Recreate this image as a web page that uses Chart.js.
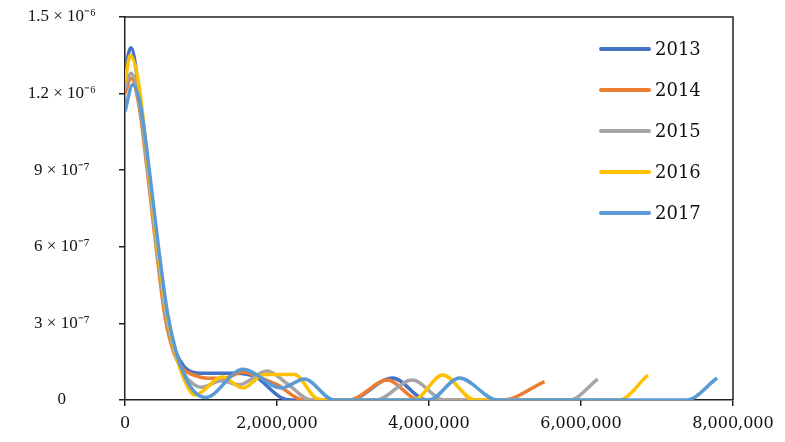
<!DOCTYPE html>
<html>
<head>
<meta charset="utf-8">
<script src="https://cdn.jsdelivr.net/npm/chart.js@4"></script>
<style>
  body { margin: 0; background: #fff; }
  #wrap { width: 785px; height: 442px; }
</style>
</head>
<body>
<div id="wrap"><canvas id="chart"></canvas></div>
<script>
// values (x in units, y as density)
const years = ["2013", "2014", "2015", "2016", "2017"];
const colors = ["#4472C4", "#ED7D31", "#A5A5A5", "#FFC000", "#5B9BD5"];

const x2013 = [0, 80000, 180000, 300000, 420000, 540000, 660000, 780000, 900000, 1000000, 1450000, 1720000, 2050000, 2200000, 2950000, 3520000, 3970000, 4150000];
const y2013 = [1.30e-6, 1.38e-6, 1.22e-6, 9.2e-7, 6.0e-7, 3.4e-7, 1.95e-7, 1.3e-7, 1.08e-7, 1.05e-7, 1.05e-7, 9.0e-8, 1.0e-8, 0, 0, 8.6e-8, 0, 0];

const x2014 = [0, 80000, 180000, 300000, 420000, 530000, 650000, 770000, 880000, 1100000, 1300000, 1550000, 1800000, 2000000, 2350000, 2950000, 3450000, 3870000, 4970000, 5520000];
const y2014 = [1.20e-6, 1.26e-6, 1.16e-6, 8.8e-7, 5.7e-7, 3.2e-7, 1.8e-7, 1.2e-7, 1.0e-7, 8.5e-8, 8.5e-8, 1.1e-7, 8.5e-8, 6.0e-8, 0, 0, 7.8e-8, 0, 0, 7.2e-8];

const x2015 = [0, 80000, 180000, 300000, 420000, 540000, 660000, 780000, 900000, 1000000, 1270000, 1500000, 1870000, 2150000, 2450000, 3300000, 3780000, 4200000, 5850000, 6220000];
const y2015 = [1.22e-6, 1.28e-6, 1.18e-6, 9.0e-7, 5.9e-7, 3.3e-7, 1.8e-7, 1.0e-7, 6.2e-8, 5.0e-8, 7.5e-8, 6.0e-8, 1.14e-7, 6.0e-8, 0, 0, 7.8e-8, 0, 0, 8.2e-8];

const x2016 = [0, 70000, 180000, 300000, 420000, 540000, 660000, 780000, 920000, 1280000, 1550000, 1840000, 2230000, 2500000, 2650000, 3800000, 4180000, 4600000, 6500000, 6880000];
const y2016 = [1.245e-6, 1.35e-6, 1.24e-6, 9.3e-7, 6.2e-7, 3.6e-7, 1.9e-7, 8.0e-8, 2.0e-8, 9.0e-8, 4.7e-8, 1.0e-7, 1.0e-7, 1.0e-8, 0, 0, 9.8e-8, 0, 0, 9.8e-8];

const x2017 = [0, 100000, 200000, 320000, 440000, 560000, 680000, 800000, 920000, 1060000, 1550000, 2060000, 2360000, 2750000, 4000000, 4400000, 4900000, 7390000, 7790000];
const y2017 = [1.13e-6, 1.235e-6, 1.16e-6, 9.0e-7, 6.0e-7, 3.4e-7, 1.8e-7, 8.5e-8, 3.0e-8, 1.0e-8, 1.2e-7, 4.7e-8, 8.2e-8, 0, 0, 8.6e-8, 0, 0, 8.6e-8];

const xSeries = [x2013, x2014, x2015, x2016, x2017];
const ySeries = [y2013, y2014, y2015, y2016, y2017];

const xTicks = [0, 2000000, 4000000, 6000000, 8000000];
const yTicks = [0, 3e-7, 6e-7, 9e-7, 1.2e-6, 1.5e-6];
const yTickLabels = ["0", "3 × 10⁻⁷", "6 × 10⁻⁷", "9 × 10⁻⁷", "1.2 × 10⁻⁶", "1.5 × 10⁻⁶"];

const axisColor = "#222";

const datasets = years.map((year, i) => ({
  label: year,
  data: xSeries[i].map((x, j) => ({ x: x, y: ySeries[i][j] })),
  borderColor: colors[i],
  backgroundColor: colors[i],
  borderWidth: 3.5,
  pointRadius: 0,
  fill: false,
  cubicInterpolationMode: "monotone",
  order: years.length - i,
}));

// top and right edges of the plot box, plus the legend inside the plot
const frameAndLegend = {
  id: "frameAndLegend",
  afterDraw(chart) {
    const ctx = chart.ctx;
    const a = chart.chartArea;
    ctx.save();
    ctx.strokeStyle = axisColor;
    ctx.lineWidth = 1.5;
    ctx.beginPath();
    ctx.moveTo(a.left, a.top);
    ctx.lineTo(a.right, a.top);
    ctx.lineTo(a.right, a.bottom);
    ctx.stroke();

    ctx.font = "18px 'DejaVu Serif'";
    ctx.textBaseline = "middle";
    ctx.textAlign = "left";
    chart.data.datasets.forEach((ds, i) => {
      const y = 49 + i * 41;
      ctx.strokeStyle = ds.borderColor;
      ctx.lineWidth = 4;
      ctx.lineCap = "round";
      ctx.beginPath();
      ctx.moveTo(601, y);
      ctx.lineTo(649, y);
      ctx.stroke();
      ctx.fillStyle = "#111";
      ctx.fillText(ds.label, 655, y + 1);
    });
    ctx.restore();
  },
};

new Chart(document.getElementById("chart"), {
  type: "line",
  data: { datasets: datasets },
  plugins: [frameAndLegend],
  options: {
    responsive: true,
    maintainAspectRatio: false,
    animation: false,
    layout: { padding: { top: 17, right: 52, left: 0, bottom: 0 } },
    plugins: {
      legend: { display: false },
      tooltip: { enabled: false },
    },
    scales: {
      x: {
        type: "linear",
        min: 0,
        max: 8000000,
        afterBuildTicks: (scale) => {
          scale.ticks = xTicks.map((v) => ({ value: v }));
        },
        afterFit: (scale) => {
          scale.height = 42;
          scale.paddingLeft = 0;
          scale.paddingRight = 0;
        },
        grid: {
          display: true,
          drawOnChartArea: false,
          drawTicks: true,
          tickLength: 6,
          color: axisColor,
          lineWidth: 1.5,
        },
        border: { display: true, color: axisColor, width: 1.5 },
        ticks: {
          color: "#111",
          font: { family: "'DejaVu Serif'", size: 16 },
          padding: 8,
          maxRotation: 0,
          callback: (value) => value.toLocaleString("en-US"),
        },
      },
      y: {
        type: "linear",
        min: 0,
        max: 1.5e-6,
        afterBuildTicks: (scale) => {
          scale.ticks = yTicks.map((v) => ({ value: v }));
        },
        afterFit: (scale) => {
          scale.width = 125;
          scale.paddingTop = 0;
          scale.paddingBottom = 0;
        },
        grid: {
          display: true,
          drawOnChartArea: false,
          drawTicks: true,
          tickLength: 6,
          color: axisColor,
          lineWidth: 1.5,
        },
        border: { display: true, color: axisColor, width: 1.5 },
        ticks: {
          color: "#111",
          font: { family: "'Liberation Serif'", size: 17 },
          crossAlign: "center",
          padding: 23,
          callback: (value, index) => yTickLabels[index],
        },
      },
    },
  },
});
</script>
</body>
</html>
